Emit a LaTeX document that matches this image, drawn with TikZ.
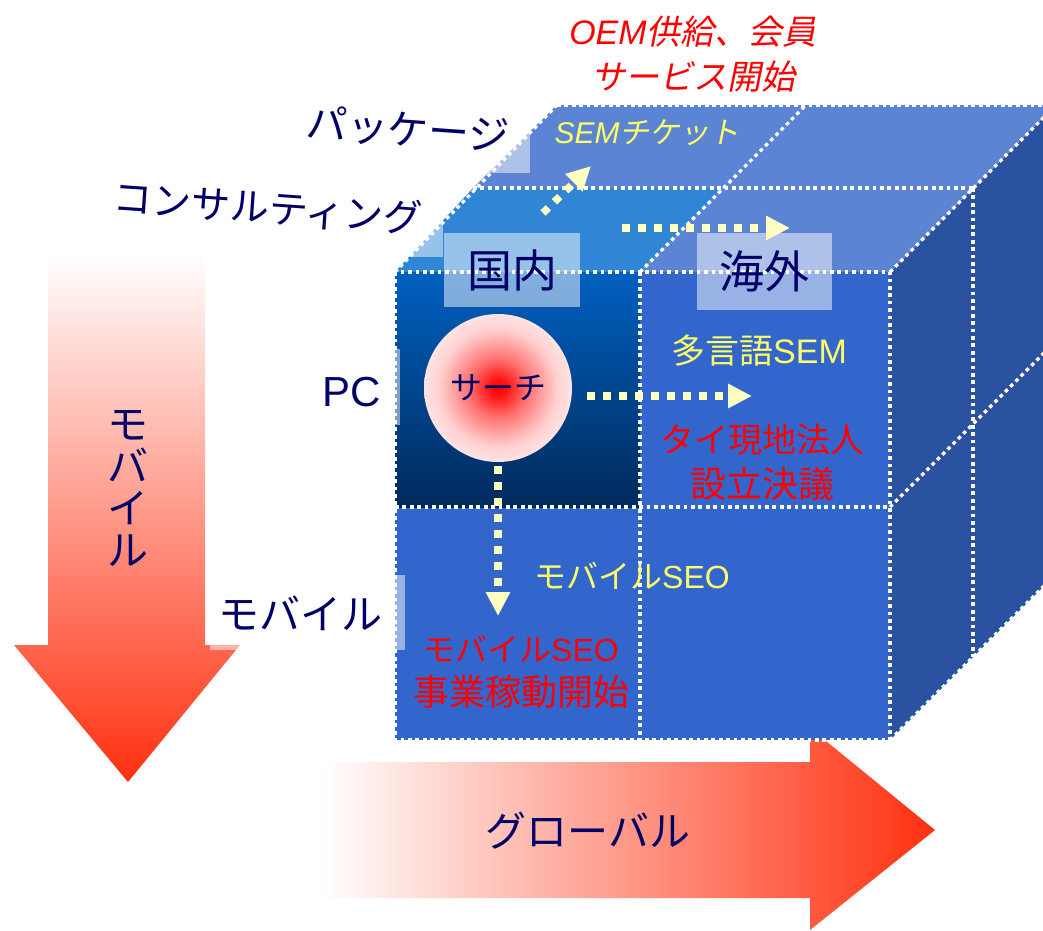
\documentclass[tikz,border=0pt]{standalone}
\usepackage{fontspec}
\setmainfont{Noto Sans CJK JP}
\newfontfamily\latfont{Liberation Sans}
\newfontfamily\jpifont{Noto Sans CJK JP}[FakeSlant=0.2]
\usetikzlibrary{arrows.meta}
\definecolor{navytxt}{RGB}{0,0,102}
\definecolor{cubeback}{RGB}{91,132,212}
\definecolor{cubebright}{RGB}{48,133,213}
\definecolor{cubefront}{RGB}{51,102,204}
\definecolor{cubeside}{RGB}{42,82,160}
\definecolor{celltop}{RGB}{0,96,192}
\definecolor{cellbot}{RGB}{0,42,92}
\definecolor{arrowred}{RGB}{255,48,16}
\definecolor{arrowpink}{RGB}{255,190,190}
\definecolor{ylwtxt}{RGB}{255,255,102}
\definecolor{ylwarrow}{RGB}{255,255,192}
\definecolor{redtxt}{RGB}{255,0,0}
\pgfdeclareradialshading{redball}{\pgfpoint{0bp}{0bp}}{color(0bp)=(red); color(3bp)=(red!92!white); color(10bp)=(red!55!white); color(20bp)=(red!18!white); color(30bp)=(red!4!white); color(36bp)=(white); color(50bp)=(white)}
\tikzset{
  dotline/.style={white, line width=3.3pt, dash pattern=on 3.7pt off 3.7pt},
  yarrow/.style={ylwarrow, line width=7.5pt, dash pattern=on 7.5pt off 8.5pt,
    -{Triangle[length=24pt,width=23pt]}},
  lblbox/.style={fill=white, fill opacity=0.5, text opacity=1, inner sep=0pt},
  navy/.style={text=navytxt, inner sep=0pt, text height=33pt, text depth=4pt},
  redt/.style={text=redtxt, inner sep=0pt, align=center},
  ylwt/.style={text=ylwtxt, inner sep=0pt, align=center},
}
\begin{document}
\begin{tikzpicture}[x=1pt,y=-1pt]
\useasboundingbox (0,0) rectangle (1043,930);
\clip (0,0) rectangle (1043,930);
% gradient arrows
\shade[top color=white, middle color=arrowpink, bottom color=arrowred]
  (48,253) -- (205,253) -- (205,645) -- (240,645) -- (128,782) -- (14,645) -- (48,645) -- cycle;
\shade[left color=white, middle color=arrowpink, right color=arrowred]
  (322,762) -- (810,762) -- (810,728) -- (935,830) -- (810,930) -- (810,898) -- (322,898) -- cycle;
% cube faces
\fill[cubeside] (890,272) -- (1056,105) -- (1056,574) -- (890,740) -- cycle;
\fill[cubeback] (557,105) -- (1056,105) -- (973,188) -- (473,188) -- cycle;
\fill[cubebright] (395,272) -- (473,188) -- (723,188) -- (640,272) -- cycle;
\fill[cubeback] (640,272) -- (723,188) -- (973,188) -- (890,272) -- cycle;
\fill[cubefront] (395,272) rectangle (890,740);
\shade[top color=celltop, bottom color=cellbot] (395,272) rectangle (640,507);
% dotted grid
\draw[dotline] (557,105) -- (1056,105);
\draw[dotline] (473,188) -- (973,188);
\draw[dotline] (395,272) -- (557,105);
\draw[dotline] (640,272) -- (806,105);
\draw[dotline] (890,272) -- (1056,105);
\draw[dotline] (973,188) -- (973,657);
\draw[dotline] (890,507) -- (1056,341);
\draw[dotline] (890,740) -- (1056,574);
\draw[dotline] (395,272) rectangle (890,740);
\draw[dotline] (640,272) -- (640,740);
\draw[dotline] (395,507) -- (890,507);
% translucent label patches
\fill[white, opacity=0.5] (440,133) rectangle (530,173);
\fill[white, opacity=0.5] (380,223) rectangle (443,257);
\fill[white, opacity=0.5] (330,349) rectangle (400,425);
\fill[white, opacity=0.5] (210,575) rectangle (405,650);
% column labels
\node[lblbox, minimum width=136pt, minimum height=74pt, text=navytxt,
  font=\fontsize{45}{45}\selectfont] (kokunai) at (512,270) {国内};
\node[lblbox, minimum width=135pt, minimum height=77pt, text=navytxt,
  font=\fontsize{45}{45}\selectfont] (kaigai) at (764.5,271.5) {海外};
% axis labels
\node[navy, rotate=-4, font=\fontsize{41}{41}\selectfont] (pkg) at (408,130) {パッケージ};
\node[navy, rotate=-4, font=\fontsize{39}{39}\selectfont] (consult) at (268,208) {コンサルティング};
\node[navy, font=\fontsize{42}{42}\selectfont\latfont] (pc) at (352,392) {PC};
\node[navy, font=\fontsize{41}{41}\selectfont] (mobrow) at (300,615) {モバイル};
\node[text=navytxt, inner sep=0pt, align=center, font=\fontsize{41}{42}\selectfont] (mobv) at (128,488) {モ\\バ\\イ\\ル};
\node[navy, font=\fontsize{41}{41}\selectfont] (glob) at (588,832) {グローバル};
% search ball
\node[circle, minimum size=148pt, inner sep=0pt, shading=redball, text=navytxt,
  font=\fontsize{32}{32}\selectfont] (search) at (498,388) {サーチ};
% texts in cube
\node[redt, font=\fontsize{34}{45}\selectfont] (oem) at (693,54)
  {{\latfont\itshape OEM}{\jpifont 供給、会員}\\{\jpifont サービス開始}};
\node[ylwt, font=\fontsize{30}{30}\selectfont] (semt) at (647,133)
  {{\latfont\itshape SEM}{\jpifont チケット}};
\node[ylwt, font=\fontsize{34}{34}\selectfont] (tagengo) at (759,351)
  {多言語{\latfont SEM}};
\node[redt, font=\fontsize{34}{45}\selectfont] (thai) at (762,462)
  {タイ現地法人\\{\fontsize{36}{45}\selectfont 設立決議}};
\node[ylwt, font=\fontsize{32}{32}\selectfont] (mseoy) at (632,576)
  {モバイル{\latfont SEO}};
\node[redt, font=\fontsize{32}{44}\selectfont] (mseor) at (521,672)
  {モバイル{\latfont SEO}\\{\fontsize{36}{44}\selectfont 事業稼動開始}};
% yellow dotted arrows
\coordinate (hEnd) at (752,396);
\coordinate (vEnd) at (498,616);
\coordinate (tStart) at (622,228);
\coordinate (tEnd) at (790,228);
\coordinate (dStart) at (543,213);
\coordinate (dEnd) at (591,166);
\draw[yarrow, shorten <=15pt] (search.east |- hEnd) -- (hEnd);
\draw[yarrow, shorten <=4pt] (search.south) -- (vEnd);
\draw[yarrow] (tStart) -- (tEnd);
\draw[yarrow] (dStart) -- (dEnd);
\end{tikzpicture}
\end{document}
